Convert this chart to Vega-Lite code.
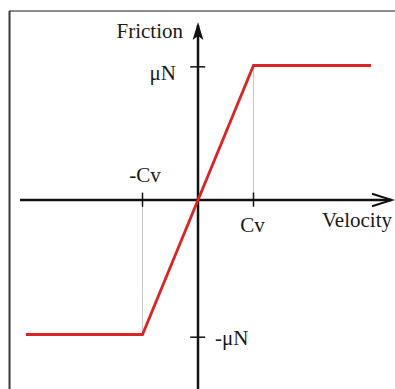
{
  "$schema": "https://vega.github.io/schema/vega-lite/v6.json",
  "width": 395,
  "height": 389,
  "padding": 0,
  "autosize": {"type": "none"},
  "background": "white",
  "config": {"view": {"stroke": null}},
  "datasets": {
    "segments": [
      {"kind": "frameTop", "v": -3.405, "f": 1.405, "v2": 3.5495, "f2": 1.405},
      {"kind": "frameLeft", "v": -3.396, "f": 1.405, "v2": -3.396, "f2": -1.405},
      {"kind": "guide", "v": 1, "f": 0, "v2": 1, "f2": 1},
      {"kind": "guide", "v": -1, "f": 0, "v2": -1, "f2": -1},
      {"kind": "axis", "v": -3.207, "f": 0, "v2": 3.49, "f2": 0},
      {"kind": "axis", "v": 0, "f": -1.405, "v2": 0, "f2": 1.3},
      {"kind": "tick", "v": -0.14, "f": 0.99, "v2": 0.13, "f2": 0.99},
      {"kind": "tick", "v": -0.14, "f": -1.02, "v2": 0.13, "f2": -1.02},
      {"kind": "tick", "v": 1, "f": 0.055, "v2": 1, "f2": -0.05},
      {"kind": "tick", "v": -1, "f": 0.055, "v2": -1, "f2": -0.05}
    ],
    "friction": [
      {"v": -3.099, "f": -1},
      {"v": -1, "f": -1},
      {"v": 1, "f": 1},
      {"v": 3.117, "f": 1}
    ],
    "arrowRight": [
      {"i": 0, "v": 3.135, "f": 0.046},
      {"i": 1, "v": 3.495, "f": 0},
      {"i": 2, "v": 3.135, "f": -0.046}
    ],
    "arrowUp": [
      {"v": 0, "f": 1.257}
    ],
    "labels": [
      {"label": "Friction", "anchor": "right", "v": -0.27, "f": 1.2045},
      {"label": "μN", "anchor": "right", "v": -0.396, "f": 0.892},
      {"label": "-Cv", "anchor": "center", "v": -0.955, "f": 0.134},
      {"label": "Cv", "anchor": "center", "v": 0.982, "f": -0.238},
      {"label": "Velocity", "anchor": "left", "v": 2.234, "f": -0.2007},
      {"label": "-μN", "anchor": "left", "v": 0.306, "f": -1.078}
    ]
  },
  "encoding": {
    "x": {"field": "v", "type": "quantitative", "axis": null,
          "scale": {"domain": [-3.5676, 3.5495], "nice": false, "zero": false}},
    "y": {"field": "f", "type": "quantitative", "axis": null,
          "scale": {"domain": [-1.4052, 1.487], "nice": false, "zero": false}}
  },
  "layer": [
    {
      "data": {"name": "segments"},
      "transform": [{"filter": "datum.kind === 'frameTop'"}],
      "mark": {"type": "rule", "color": "#8a8a8a", "strokeWidth": 2},
      "encoding": {"x2": {"field": "v2"}, "y2": {"field": "f2"}}
    },
    {
      "data": {"name": "segments"},
      "transform": [{"filter": "datum.kind === 'frameLeft'"}],
      "mark": {"type": "rule", "color": "#3a3a3a", "strokeWidth": 2},
      "encoding": {"x2": {"field": "v2"}, "y2": {"field": "f2"}}
    },
    {
      "data": {"name": "segments"},
      "transform": [{"filter": "datum.kind === 'guide'"}],
      "mark": {"type": "rule", "color": "#c4c4c4", "strokeWidth": 1},
      "encoding": {"x2": {"field": "v2"}, "y2": {"field": "f2"}}
    },
    {
      "data": {"name": "segments"},
      "transform": [{"filter": "datum.kind === 'axis'"}],
      "mark": {"type": "rule", "color": "#111111", "strokeWidth": 2.5},
      "encoding": {"x2": {"field": "v2"}, "y2": {"field": "f2"}}
    },
    {
      "data": {"name": "segments"},
      "transform": [{"filter": "datum.kind === 'tick'"}],
      "mark": {"type": "rule", "color": "#111111", "strokeWidth": 1.5},
      "encoding": {"x2": {"field": "v2"}, "y2": {"field": "f2"}}
    },
    {
      "data": {"name": "friction"},
      "mark": {"type": "line", "color": "#d92525", "strokeWidth": 2.8},
      "encoding": {}
    },
    {
      "data": {"name": "arrowRight"},
      "mark": {"type": "line", "color": "#111111", "strokeWidth": 2},
      "encoding": {"order": {"field": "i"}}
    },
    {
      "data": {"name": "arrowUp"},
      "mark": {"type": "point", "shape": "M0,-1L0.6,1L0,0.55L-0.6,1Z", "filled": true,
               "color": "#111111", "opacity": 1, "size": 324},
      "encoding": {}
    },
    {
      "data": {"name": "labels"},
      "transform": [{"filter": "datum.anchor === 'right'"}],
      "mark": {"type": "text", "align": "right", "baseline": "alphabetic",
               "font": "Liberation Serif", "fontSize": 21, "color": "#1a1a1a"},
      "encoding": {"text": {"field": "label"}}
    },
    {
      "data": {"name": "labels"},
      "transform": [{"filter": "datum.anchor === 'center'"}],
      "mark": {"type": "text", "align": "center", "baseline": "alphabetic",
               "font": "Liberation Serif", "fontSize": 21, "color": "#1a1a1a"},
      "encoding": {"text": {"field": "label"}}
    },
    {
      "data": {"name": "labels"},
      "transform": [{"filter": "datum.anchor === 'left'"}],
      "mark": {"type": "text", "align": "left", "baseline": "alphabetic",
               "font": "Liberation Serif", "fontSize": 21, "color": "#1a1a1a"},
      "encoding": {"text": {"field": "label"}}
    }
  ]
}
